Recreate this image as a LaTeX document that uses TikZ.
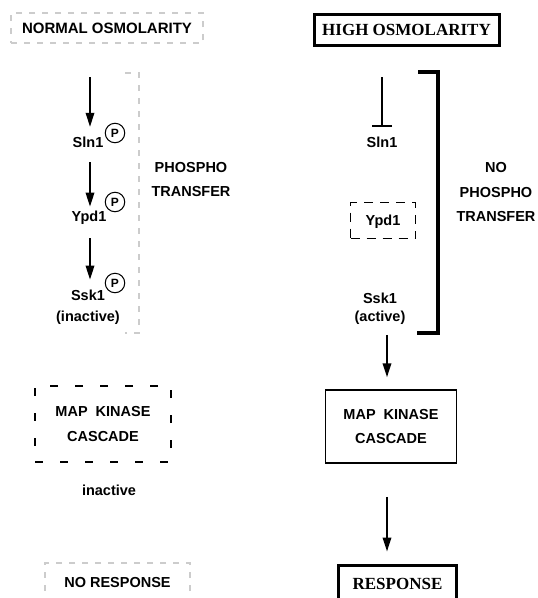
\documentclass[tikz,border=0pt]{standalone}
\usepackage{fontspec}
\setmainfont{Liberation Serif}
\setsansfont{Liberation Sans}
\usetikzlibrary{arrows.meta}
\begin{document}
\begin{tikzpicture}[x=1pt,y=-1pt,
  lbl/.style={font=\sffamily\bfseries\fontsize{14.5}{17}\selectfont, inner sep=0pt, text height=10.4pt, text depth=0pt},
  mlbl/.style={font=\sffamily\bfseries\fontsize{14.5}{#1}\selectfont, inner sep=0pt, align=center},
  slbl/.style={font=\rmfamily\bfseries\fontsize{17}{20}\selectfont, inner sep=0pt, text height=11.3pt, text depth=0pt, draw, line width=3pt},
  pc/.style={circle, draw, line width=1pt, minimum size=19.5pt, inner sep=0pt, font=\sffamily\bfseries\fontsize{12}{12}\selectfont},
  arr/.style={line width=1.9pt, -{Triangle[length=14pt,width=8.5pt]}},
  inh/.style={line width=1.9pt, -{Bar[width=20pt]}},
  faint/.style={draw=gray!40, line width=1.6pt, dash pattern=on 6pt off 7pt},
  dbox/.style={draw, line width=1.3pt, dash pattern=on 8pt off 17pt, dash phase=0pt},
  ybox/.style={draw, line width=1.2pt, dash pattern=on 9pt off 7pt}
]
\useasboundingbox[fill=white] (0,0) rectangle (538,598);

% ---------------- left column ----------------
\node[lbl, font=\sffamily\bfseries\fontsize{15}{17}\selectfont, text height=10.7pt, faint, minimum width=192pt, minimum height=30pt] (normal) at (107,28) {NORMAL OSMOLARITY};

\coordinate (n0) at (90,77);
\node[lbl] (nsln) at (88,142) {Sln1};
\node[pc] (np1) at (115,133) {P};
\node[lbl] (nypd) at (89,216) {Ypd1};
\node[pc] (np2) at (115,202) {P};
\node[lbl] (nssk) at (88,295) {Ssk1};
\node[pc] (np3) at (115,283) {P};
\node[lbl] (ninactssk) at (88,316) {(inactive)};

\draw[arr, shorten >=9.8pt] (n0) -- (n0 |- nsln.north);
\draw[arr, shorten <=14.8pt, shorten >=4pt] (n0 |- nsln.south) -- (n0 |- nypd.north);
\draw[arr, shorten <=17pt, shorten >=10pt] (n0 |- nypd.south) -- (n0 |- nssk.north);

\draw[faint] (125,73) -- (139,73) -- (139,333) -- (125,333);
\node[mlbl=24] (nphos) at (191,180) {PHOSPHO\\TRANSFER};

\node[mlbl=25, dbox, minimum width=136pt, minimum height=76pt] (nmap) at (103,424) {MAP~~KINASE\\CASCADE};
\node[lbl] (ninact) at (109,490) {inactive};

\node[lbl, faint, minimum width=145pt, minimum height=39pt] (nnoresp) at (117.5,582.5) {NO RESPONSE};

% ---------------- right column ----------------
\node[slbl, minimum width=185pt, minimum height=31pt] (high) at (406.5,29.5) {HIGH OSMOLARITY};

\coordinate (h0) at (382,77);
\node[lbl] (hsln) at (382,142) {Sln1};
\draw[inh, shorten >=9.8pt] (h0) -- (h0 |- hsln.north);

\node[lbl, ybox, minimum width=65pt, minimum height=36pt] (hypd) at (383,220.5) {Ypd1};
\node[mlbl=18] (hssk) at (380,309) {Ssk1\\(active)};

\draw[line width=4pt, line join=miter] (418,72) -- (438,72) -- (438,332.5) -- (417,332.5);
\node[mlbl=24.5] (hphos) at (496,192.5) {NO\\PHOSPHO\\TRANSFER};

\node[mlbl=24.5, draw, line width=1.5pt, minimum width=131pt, minimum height=73pt] (hmap) at (391,426.5) {MAP~~KINASE\\CASCADE};
\node[slbl, minimum width=118pt, minimum height=37pt] (hresp) at (397.5,584) {RESPONSE};

\draw[arr, shorten <=10pt, shorten >=12pt] ([xshift=7pt]hssk.south) -- ([xshift=-4pt]hmap.north);
\draw[arr, shorten <=33pt, shorten >=12.5pt] ([xshift=-4pt]hmap.south) -- ([xshift=-10.5pt]hresp.north);
\end{tikzpicture}
\end{document}
